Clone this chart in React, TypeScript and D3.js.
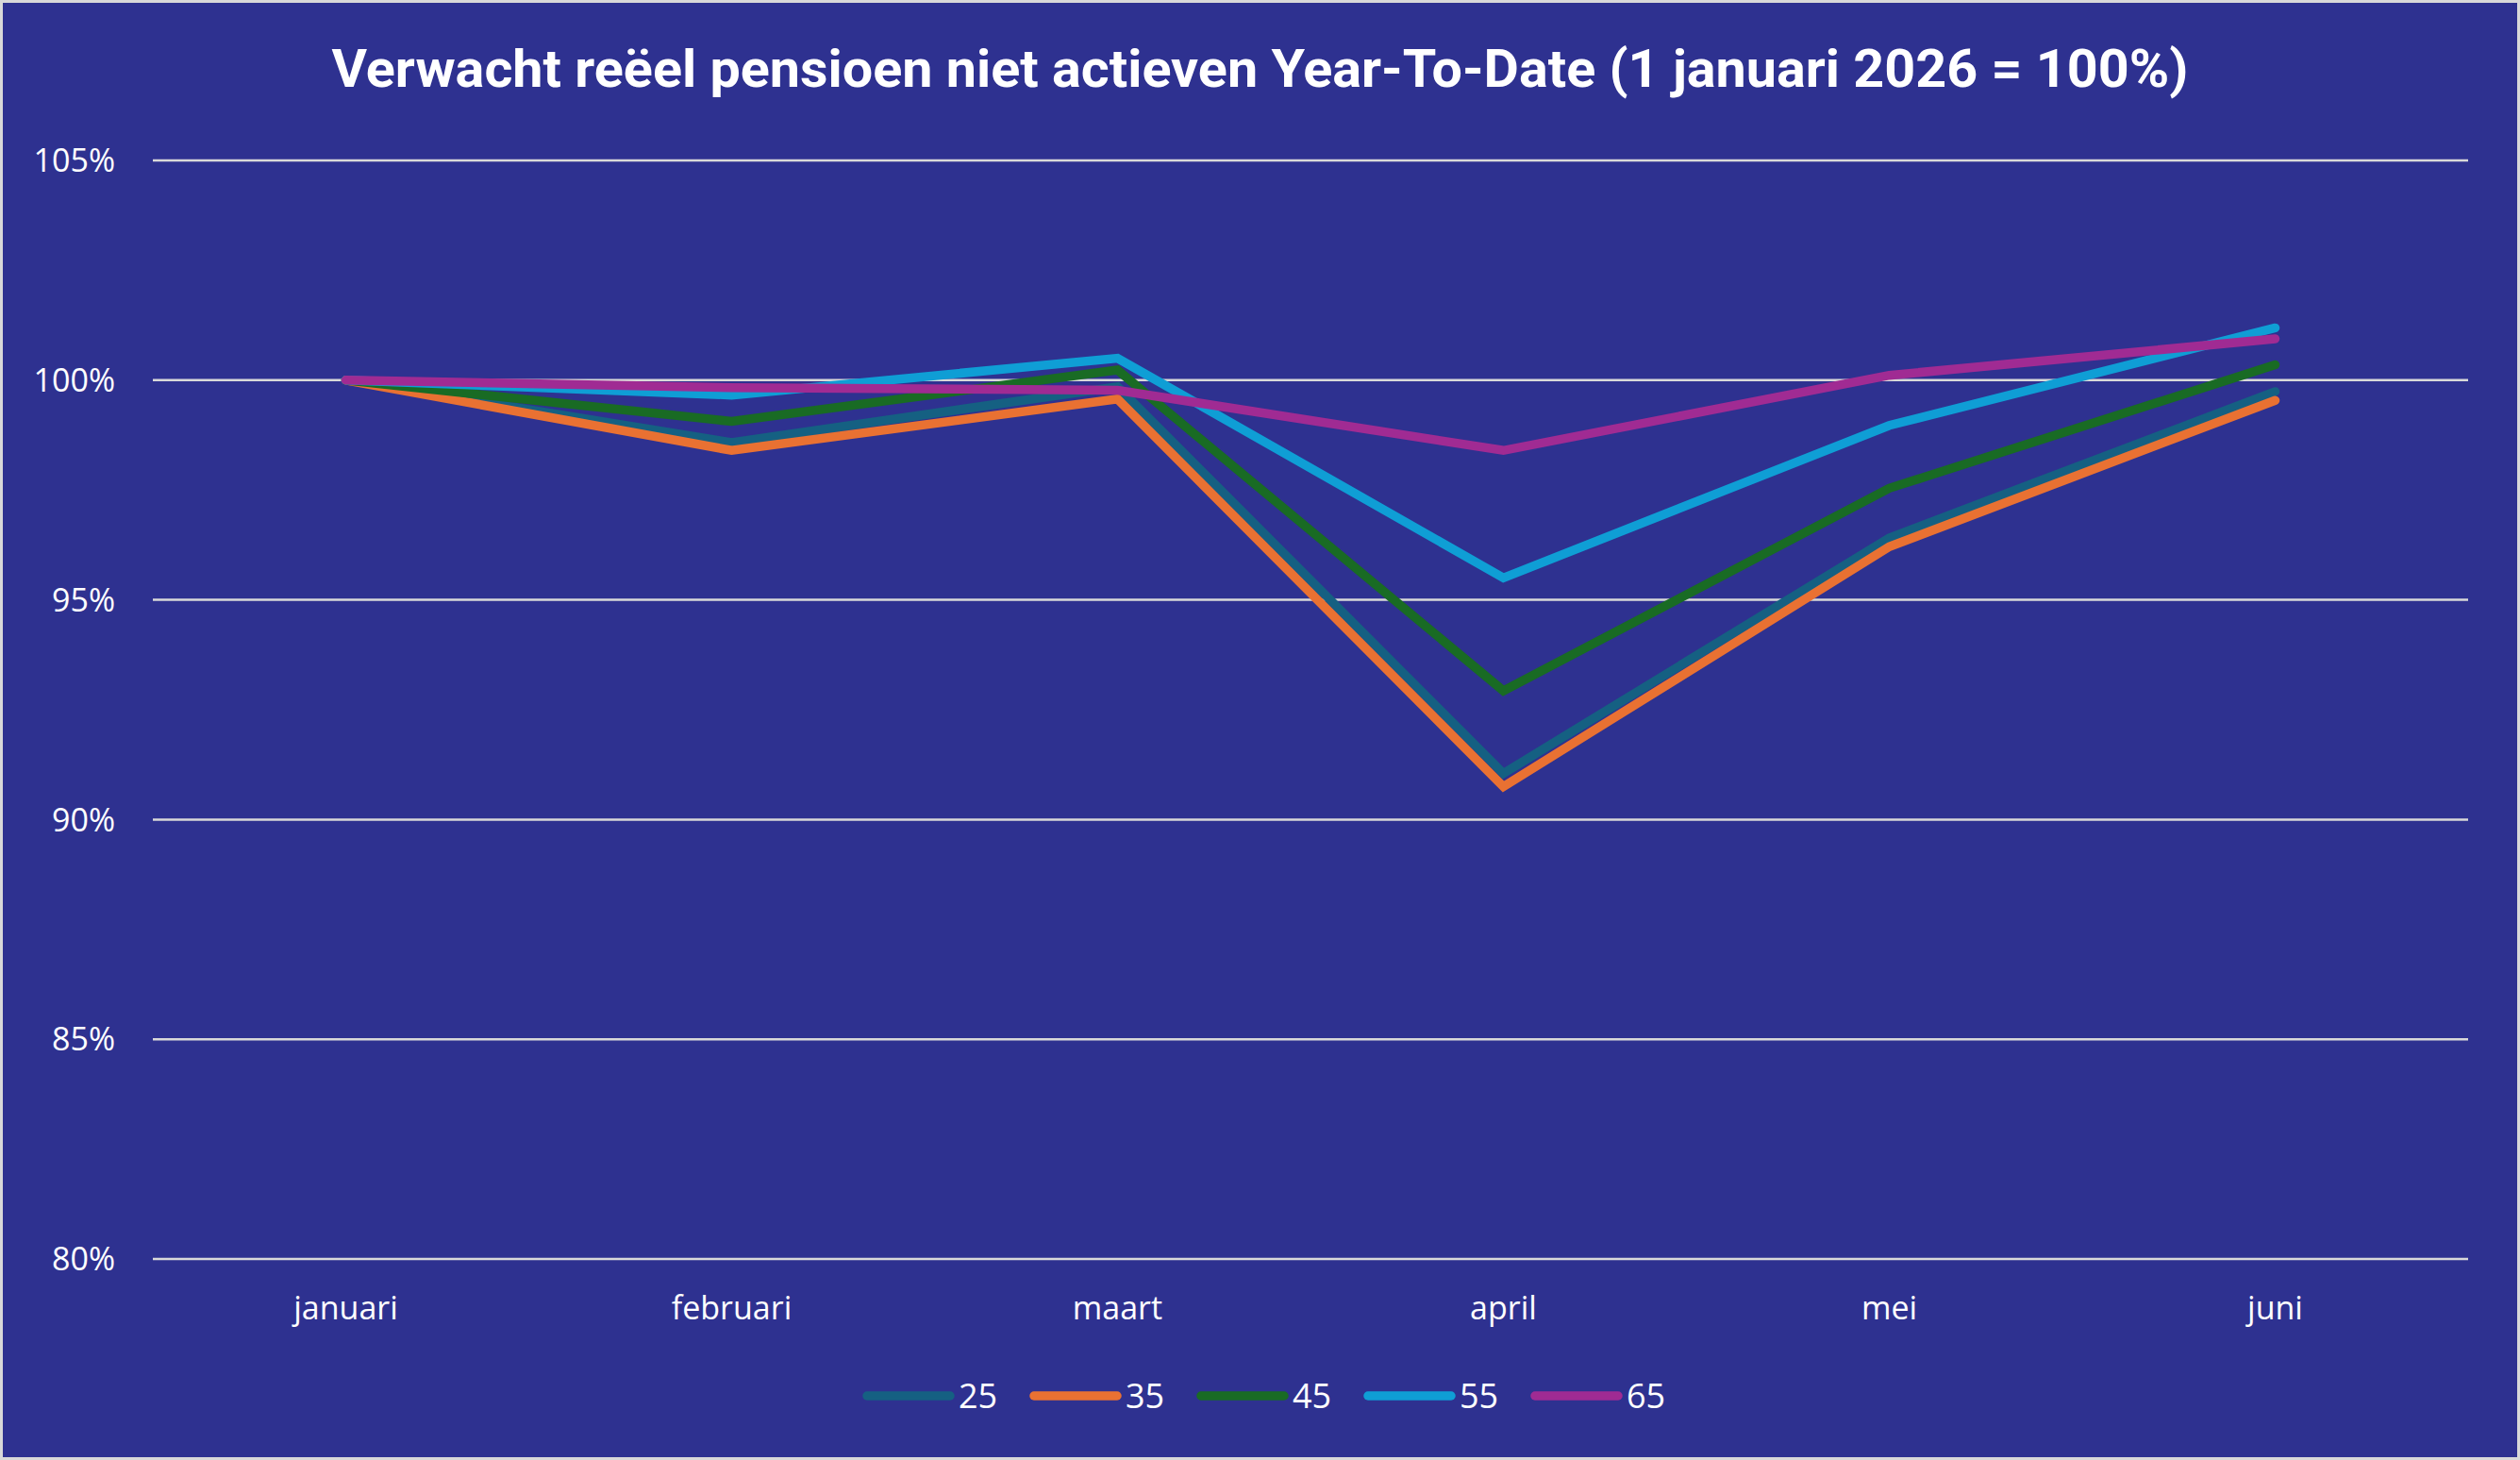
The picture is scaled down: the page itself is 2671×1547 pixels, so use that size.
import { useRef, useEffect } from "react";
import * as d3 from "d3";

const W = 2671;
const H = 1547;

const months = ["januari", "februari", "maart", "april", "mei", "juni"];
const yTicks = [80, 85, 90, 95, 100, 105];

const ages = ["25", "35", "45", "55", "65"];
const colors = ["#156082", "#E97132", "#196B24", "#0F9ED5", "#A02B93"];

const s25 = [100, 98.58, 99.85, 91.05, 96.41, 99.74];
const s35 = [100, 98.4, 99.57, 90.75, 96.21, 99.54];
const s45 = [100, 99.06, 100.23, 92.93, 97.54, 100.35];
const s55 = [100, 99.66, 100.5, 95.5, 98.97, 101.19];
const s65 = [100, 99.83, 99.77, 98.4, 100.11, 100.94];

const series = [s25, s35, s45, s55, s65];

const margin = { left: 162, right: 55, top: 170, bottom: 213 };
const FONT = "'Open Sans', 'Liberation Sans', sans-serif";

export default function App() {
  const svgRef = useRef<SVGSVGElement>(null);

  useEffect(() => {
    const svg = d3.select(svgRef.current);
    svg.selectAll("*").remove();

    // background + frame
    svg.append("rect").attr("width", W).attr("height", H).attr("fill", "#D9D9D9");
    svg.append("rect")
      .attr("x", 3).attr("y", 3)
      .attr("width", W - 6).attr("height", H - 6)
      .attr("fill", "#2E3190");

    const x = d3.scalePoint<string>()
      .domain(months)
      .range([margin.left, W - margin.right])
      .padding(0.5);

    const y = d3.scaleLinear()
      .domain([80, 105])
      .range([H - margin.bottom, margin.top]);

    // title
    svg.append("text")
      .attr("x", W / 2)
      .attr("y", 92)
      .attr("text-anchor", "middle")
      .attr("fill", "#fff")
      .attr("font-family", "'Liberation Sans Narrow', 'Roboto', sans-serif")
      .attr("font-weight", "bold")
      .attr("font-size", 56)
      .attr("textLength", 1968)
      .attr("lengthAdjust", "spacingAndGlyphs")
      .text("Verwacht reëel pensioen niet actieven Year-To-Date (1 januari 2026 = 100%)");

    // gridlines
    svg.append("g")
      .selectAll("line")
      .data(yTicks)
      .join("line")
      .attr("x1", margin.left)
      .attr("x2", W - margin.right)
      .attr("y1", (d) => y(d))
      .attr("y2", (d) => y(d))
      .attr("stroke", "#D9D9D9")
      .attr("stroke-width", 2.5);

    // y labels
    svg.append("g")
      .selectAll("text")
      .data(yTicks)
      .join("text")
      .attr("x", 122)
      .attr("y", (d) => y(d))
      .attr("dy", "0.36em")
      .attr("text-anchor", "end")
      .attr("fill", "#fff")
      .attr("font-family", FONT)
      .attr("font-size", 34)
      .text((d) => `${d}%`);

    // x labels
    svg.append("g")
      .selectAll("text")
      .data(months)
      .join("text")
      .attr("x", (d) => x(d)!)
      .attr("y", 1398)
      .attr("text-anchor", "middle")
      .attr("fill", "#fff")
      .attr("font-family", FONT)
      .attr("font-size", 34)
      .text((d) => d);

    // lines
    const line = d3.line<number>()
      .x((_, i) => x(months[i])!)
      .y((d) => y(d));

    svg.append("g")
      .selectAll("path")
      .data(series)
      .join("path")
      .attr("d", (d) => line(d))
      .attr("fill", "none")
      .attr("stroke", (_, i) => colors[i])
      .attr("stroke-width", 9.5)
      .attr("stroke-linecap", "round")
      .attr("stroke-linejoin", "miter");

    // legend
    const legend = svg.append("g")
      .selectAll("g")
      .data(ages)
      .join("g")
      .attr("transform", (_, i) => `translate(${914 + i * 177}, 1479)`);

    legend.append("line")
      .attr("x1", 5)
      .attr("x2", 93)
      .attr("stroke", (_, i) => colors[i])
      .attr("stroke-width", 9.5)
      .attr("stroke-linecap", "round");

    legend.append("text")
      .attr("x", 102)
      .attr("dy", "0.36em")
      .attr("fill", "#fff")
      .attr("font-family", FONT)
      .attr("font-size", 36)
      .text((d) => d);
  }, []);

  return (
    <svg
      ref={svgRef}
      width={W}
      height={H}
      style={{ position: "absolute", left: 0, top: 0, display: "block" }}
    />
  );
}
